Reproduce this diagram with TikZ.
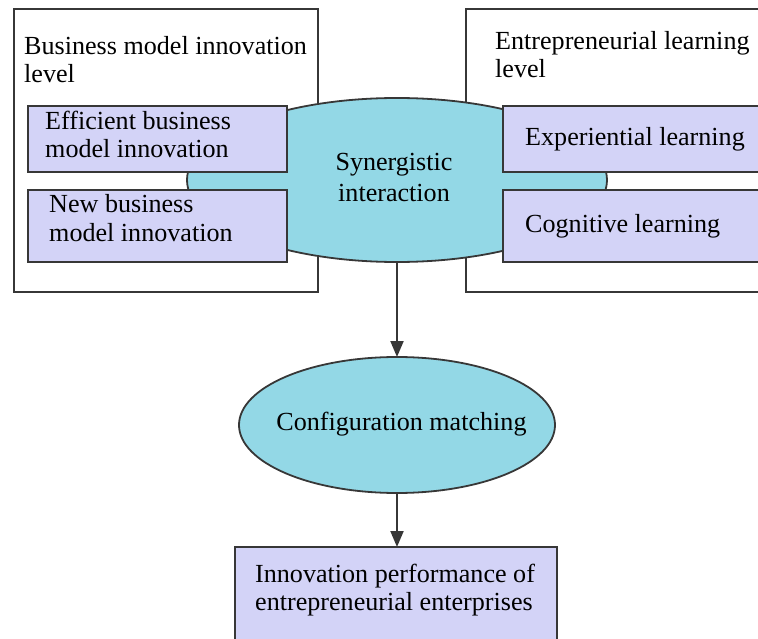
\documentclass[tikz,border=0pt]{standalone}
\usepackage{fontspec}
\setmainfont{Liberation Serif}
\usetikzlibrary{arrows.meta,shapes.geometric}
\definecolor{boxfill}{RGB}{211,211,247}
\definecolor{ovalfill}{RGB}{147,216,230}
\definecolor{edge}{RGB}{55,55,55}
\begin{document}
\begin{tikzpicture}[x=1pt,y=-1pt,
  frame/.style={draw=edge,line width=1.8pt,fill=white,anchor=north west,inner sep=0pt,outer sep=0pt},
  item/.style={draw=edge,line width=1.8pt,fill=boxfill,anchor=north west,inner sep=0pt,outer sep=0pt},
  oval/.style={ellipse,draw=edge,line width=1.8pt,fill=ovalfill,inner sep=0pt,outer sep=0pt},
  lbl/.style={anchor=base west,inner sep=0pt,align=left,font=\fontsize{26.1}{28}\selectfont},
  flow/.style={draw=edge,line width=2pt,-{Triangle[length=16pt,width=13pt]}}]
\useasboundingbox (0,0) rectangle (758,639);
\clip (0,0) rectangle (758,639);

% level frames
\node[frame,minimum width=304pt,minimum height=283pt] (bmiframe) at (14,9) {};
\node[frame,minimum width=320pt,minimum height=283pt] (elframe) at (466,9) {};

% central interaction oval
\node[oval,minimum width=420pt,minimum height=164pt] (syn) at (397,180) {};

% inner factor boxes
\node[item,minimum width=259pt,minimum height=66pt] (eff) at (28,106) {};
\node[item,minimum width=259pt,minimum height=72pt] (new) at (28,190) {};
\node[item,minimum width=290pt,minimum height=66pt] (exp) at (503,106) {};
\node[item,minimum width=290pt,minimum height=72pt] (cog) at (503,190) {};

% outcome chain
\node[oval,minimum width=316pt,minimum height=136pt] (cfg) at (397,425) {};
\node[item,minimum width=322pt,minimum height=120pt] (perf) at (235,547) {};

\draw[flow] (syn.south) -- (cfg.north);
\draw[flow] (cfg.south) -- (cfg.south |- perf.north);

% texts (anchored at the baseline of their last line)
\node[lbl] (bmitxt) at (24,83) {Business model innovation\\level};
\node[lbl] (eltxt) at (495,78) {Entrepreneurial learning\\level};
\node[lbl] (efftxt) at (45,158) {Efficient business\\model innovation};
\node[lbl,font=\fontsize{26.1}{29}\selectfont] (newtxt) at (49,242) {New business\\model innovation};
\node[lbl] (exptxt) at (525,146) {Experiential learning};
\node[lbl] (cogtxt) at (525,233) {Cognitive learning};
\node[lbl,anchor=base,align=center,font=\fontsize{26.1}{31}\selectfont] (syntxt) at (394,202) {Synergistic\\interaction};
\node[lbl,anchor=base] (cfgtxt) at (401.5,430) {Configuration matching};
\node[lbl] (perftxt) at (255,610) {Innovation performance of\\entrepreneurial enterprises};
\end{tikzpicture}
\end{document}
